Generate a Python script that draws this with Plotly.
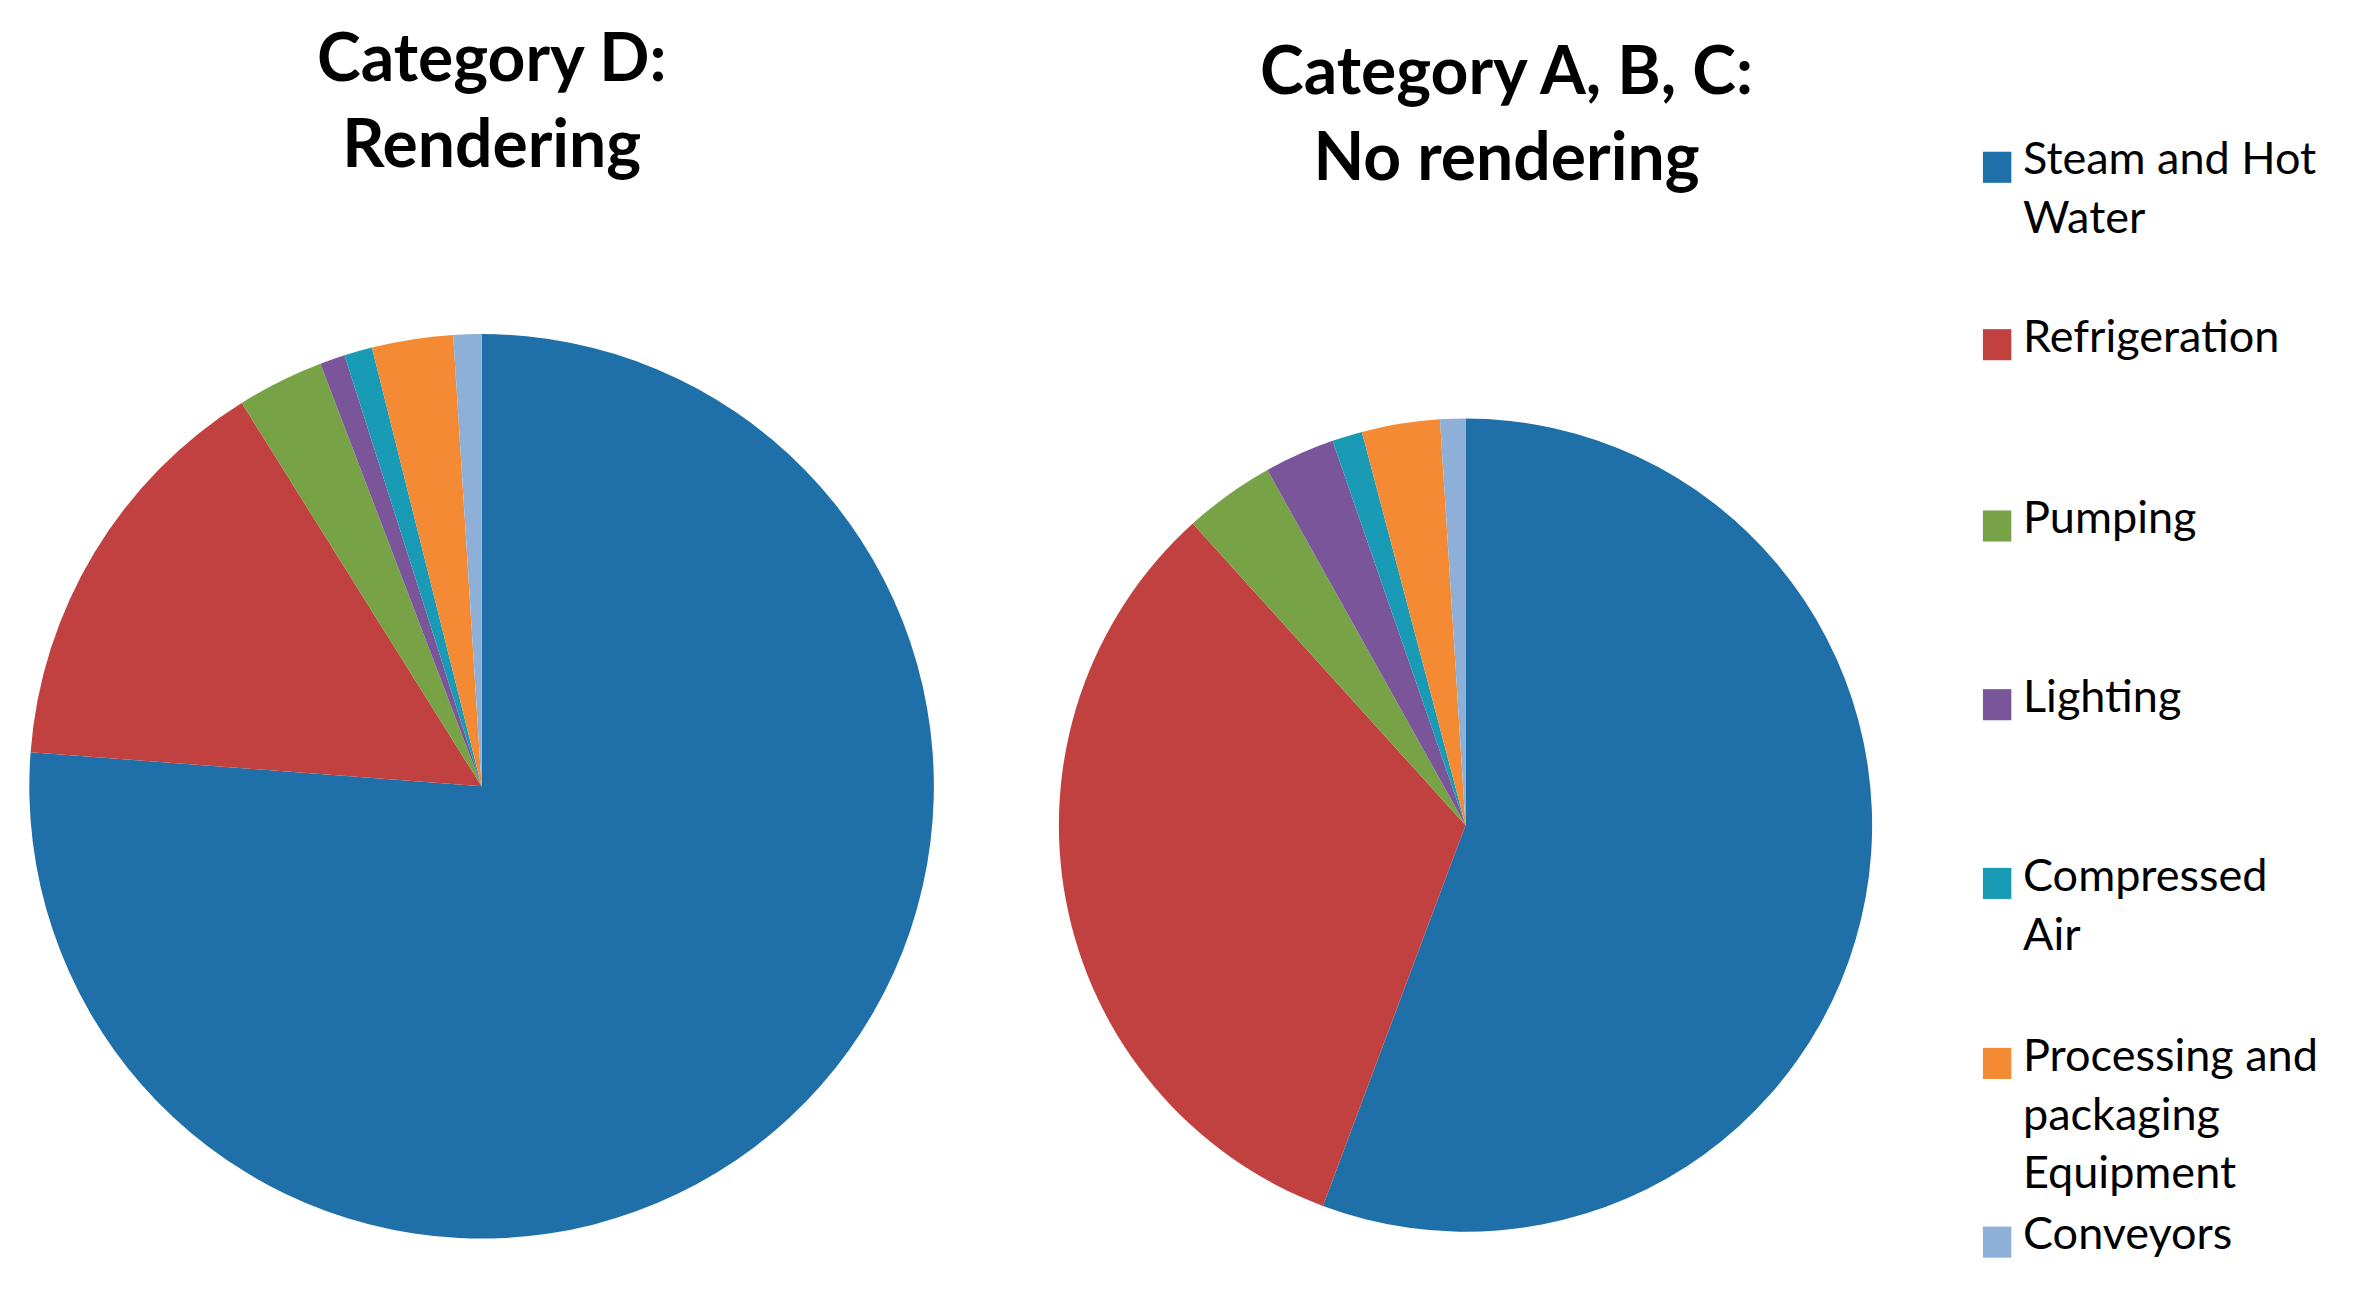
import plotly.graph_objects as go

categories = ["Steam and Hot Water", "Refrigeration", "Pumping", "Lighting",
              "Compressed Air", "Processing and packaging Equipment", "Conveyors"]
legend_labels = ["Steam and Hot<br>Water", "Refrigeration", "Pumping", "Lighting",
                 "Compressed<br>Air", "Processing and<br>packaging<br>Equipment", "Conveyors"]
rendering = [76.2, 14.9, 3.1, 0.9, 1.0, 2.9, 1.0]
no_rendering = [55.7, 32.6, 3.6, 2.8, 1.2, 3.1, 1.0]
colors = ["#1F6FA8", "#C0413F", "#77A346", "#7A559A", "#1A9BB5", "#F48A34", "#8EB0D8"]

fig = go.Figure()
common = dict(sort=False, direction="clockwise", rotation=0, textinfo="none",
              hoverinfo="label+percent", marker=dict(colors=colors, line=dict(width=0)),
              showlegend=False)
fig.add_trace(go.Pie(labels=categories, values=rendering,
                     domain=dict(x=[0.009, 0.391], y=[0.049, 0.749]), **common))
fig.add_trace(go.Pie(labels=categories, values=no_rendering,
                     domain=dict(x=[0.443, 0.788], y=[0.055, 0.683]), **common))

tfont = dict(family="Lato", size=66, color="black", weight="bold")
fig.add_annotation(x=0.204, y=0.995, xref="paper", yref="paper", showarrow=False,
                   xanchor="center", yanchor="top",
                   text="<b>Category D:<br>Rendering</b>", font=tfont)
fig.add_annotation(x=0.633, y=0.985, xref="paper", yref="paper", showarrow=False,
                   xanchor="center", yanchor="top",
                   text="<b>Category A, B, C:<br>No rendering</b>", font=tfont)

tops = [0.877, 0.740, 0.600, 0.462, 0.324, 0.185, 0.047]
for i, lab in enumerate(legend_labels):
    y = tops[i]
    fig.add_shape(type="rect", xref="paper", yref="paper",
                  x0=0.834, x1=0.846, y0=y - 0.012, y1=y + 0.012,
                  fillcolor=colors[i], line=dict(width=0))
    fig.add_annotation(x=0.850, y=y + 0.030, xref="paper", yref="paper", showarrow=False,
                       text=lab, align="left", xanchor="left", yanchor="top",
                       font=dict(family="Lato", size=45, color="black"))

fig.update_layout(width=2368, height=1295, margin=dict(l=0, r=0, t=0, b=0),
                  paper_bgcolor="white", plot_bgcolor="white")
fig.write_html("out.html")
